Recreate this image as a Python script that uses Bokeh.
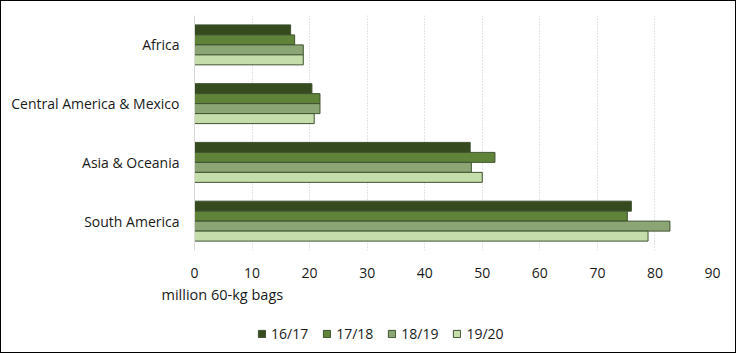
from bokeh.plotting import figure
from bokeh.layouts import column
from bokeh.models import ColumnDataSource, FactorRange, Legend, LegendItem, Title, Range1d
from bokeh.transform import dodge
from bokeh.embed import file_html
from bokeh.resources import INLINE

regions = ["South America", "Asia & Oceania", "Central America & Mexico", "Africa"]
seasons = ["16/17", "17/18", "18/19", "19/20"]
v1617 = [75.9, 47.9, 20.4, 16.7]
v1718 = [75.2, 52.2, 21.8, 17.4]
v1819 = [82.6, 48.1, 21.8, 18.9]
v1920 = [78.8, 50.0, 20.8, 18.9]
colors = ["#364a1f", "#5e8339", "#8ba674", "#c5ddab"]
ticks = [0, 10, 20, 30, 40, 50, 60, 70, 80, 90]

src = ColumnDataSource(dict(region=regions, s1617=v1617, s1718=v1718, s1819=v1819, s1920=v1920))
cols = ["s1617", "s1718", "s1819", "s1920"]

FONT = "Open Sans"
TXT = "#1a1a1a"
EDGE = "#3f5230"

p = figure(width=734, height=315, y_range=FactorRange(factors=regions), x_range=(0, 90),
           output_backend="svg", toolbar_location=None,
           min_border_left=193, min_border_right=23, min_border_top=14, min_border_bottom=66)
p.outline_line_color = None

bh = 0.17
offsets = [1.5 * bh, 0.5 * bh, -0.5 * bh, -1.5 * bh]
for c, off, col in zip(cols, offsets, colors):
    p.hbar(y=dodge("region", off, range=p.y_range), right=c, left=0, height=bh, source=src,
           fill_color=col, line_color=EDGE, line_width=1)

p.xaxis.ticker = ticks
p.xaxis.axis_line_color = None
p.xaxis.major_tick_line_color = None
p.xaxis.minor_tick_line_color = None
p.xaxis.major_label_standoff = 11
p.xaxis.major_label_text_font = FONT
p.xaxis.major_label_text_font_size = "14px"
p.xaxis.major_label_text_color = TXT

p.yaxis.axis_line_color = "#d9d9d9"
p.yaxis.major_tick_line_color = None
p.yaxis.minor_tick_line_color = None
p.yaxis.major_label_standoff = 9
p.yaxis.major_label_text_font = FONT
p.yaxis.major_label_text_font_size = "14px"
p.yaxis.major_label_text_color = TXT

p.ygrid.grid_line_color = None
p.xgrid.grid_line_color = "#c8c8c8"
p.xgrid.grid_line_dash = "1 2"

t = Title(text="million 60-kg bags", align="left", offset=-33, text_font=FONT,
          text_font_size="14.5px", text_font_style="normal", text_color=TXT, standoff=4)
p.add_layout(t, "below")

# legend strip (its sample bars lie outside the strip's visible range)
lg = figure(width=734, height=36, x_range=Range1d(0, 1), y_range=Range1d(0, 1),
            output_backend="svg", toolbar_location=None,
            min_border_left=24, min_border_right=0, min_border_top=0, min_border_bottom=0)
lg.axis.visible = False
lg.grid.visible = False
lg.outline_line_color = None
items = []
for s, col in zip(seasons, colors):
    r = lg.hbar(y=[-5], right=[-5], left=[-5], height=0.1, fill_color=col, line_color=EDGE, line_width=1)
    items.append(LegendItem(label=s, renderers=[r]))
legend = Legend(items=items, orientation="horizontal", location=(63, 9),
                label_text_font=FONT, label_text_font_size="14px", label_text_color=TXT,
                glyph_width=9, glyph_height=9, label_standoff=5, spacing=14,
                border_line_color=None, background_fill_alpha=0, padding=0, margin=0)
lg.add_layout(legend, "center")

layout = column(p, lg, spacing=0)
layout.styles = {"border": "1px solid black"}

open("out.html", "w").write(file_html(layout, INLINE))
